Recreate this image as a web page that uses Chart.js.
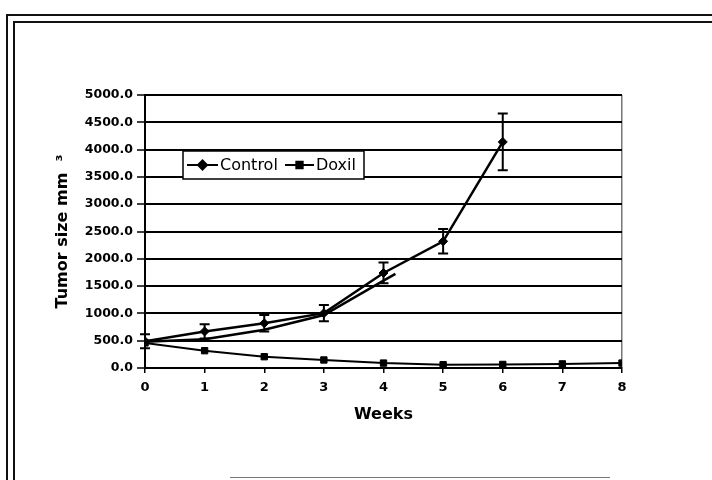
<!DOCTYPE html>
<html><head><meta charset="utf-8">
<script src="https://cdn.jsdelivr.net/npm/chart.js@4/dist/chart.umd.min.js"></script>
<style>
html,body{margin:0;padding:0;background:#fff;width:712px;height:480px;overflow:hidden;}
#wrap{position:absolute;left:0;top:0;width:712px;height:480px;}
.fr{position:absolute;background:#111;}
canvas{position:absolute;left:0;top:0;}
</style></head><body>
<div id="wrap">
<div class="fr" style="left:6px;top:14px;width:2px;height:466px"></div>
<div class="fr" style="left:6px;top:14px;width:706px;height:2px"></div>
<div class="fr" style="left:13px;top:21px;width:2px;height:459px"></div>
<div class="fr" style="left:13px;top:21px;width:699px;height:2px"></div>
<div class="fr" style="left:230px;top:477px;width:380px;height:1px;background:#777"></div>
<canvas id="c" width="712" height="480"></canvas>
</div>
<script>
// ---- data ----
const weeks = [0, 1, 2, 3, 4, 5, 6, 7, 8];
const controlWeeks = [0, 1, 2, 3, 4, 5, 6];
const controlMean = [490, 670, 820, 1005, 1740, 2320, 4140];
const controlSD = [130, 130, 150, 150, 190, 225, 520];
const doxilMean = [460, 317, 207, 147, 90, 60, 65, 75, 90];
const extraWeeks = [0, 1, 2, 3, 4, 4.2];
const extraMean = [480, 525, 700, 970, 1600, 1725];
const yTicks = [0, 500, 1000, 1500, 2000, 2500, 3000, 3500, 4000, 4500, 5000];
const seriesLabels = ['Control', 'Doxil'];
const xTitle = 'Weeks';
const yTitle = 'Tumor size mm  \u00B3';

Chart.defaults.font.family = "'DejaVu Sans', sans-serif";
Chart.defaults.color = '#000';

const errorBars = {
  id: 'errorBars',
  afterDatasetsDraw(chart) {
    const {ctx, scales: {x, y}} = chart;
    ctx.save();
    ctx.strokeStyle = '#000';
    ctx.lineWidth = 2;
    controlWeeks.forEach((w, i) => {
      const px = x.getPixelForValue(w);
      const top = y.getPixelForValue(controlMean[i] + controlSD[i]);
      const bot = y.getPixelForValue(controlMean[i] - controlSD[i]);
      ctx.beginPath();
      ctx.moveTo(px, top); ctx.lineTo(px, bot);
      ctx.moveTo(px - 5, top); ctx.lineTo(px + 5, top);
      ctx.moveTo(px - 5, bot); ctx.lineTo(px + 5, bot);
      ctx.stroke();
    });
    ctx.restore();
  }
};

const boxLegend = {
  id: 'boxLegend',
  afterDraw(chart) {
    const {ctx} = chart;
    const bx = 183, by = 151, bw = 181, bh = 28;
    ctx.save();
    ctx.fillStyle = '#fff';
    ctx.fillRect(bx, by, bw, bh);
    ctx.strokeStyle = '#000';
    ctx.lineWidth = 1.5;
    ctx.strokeRect(bx, by, bw, bh);
    ctx.font = "16px 'DejaVu Sans'";
    ctx.textBaseline = 'middle';
    ctx.fillStyle = '#000';
    const cy = by + bh / 2;
    const items = [{x0: 187, x1: 218, tx: 220}, {x0: 285, x1: 314, tx: 316}];
    chart.data.datasets.slice(0, 2).forEach((ds, i) => {
      const it = items[i];
      ctx.lineWidth = 2;
      ctx.beginPath(); ctx.moveTo(it.x0, cy); ctx.lineTo(it.x1, cy); ctx.stroke();
      Chart.helpers.drawPoint(ctx, {pointStyle: ds.pointStyle, radius: ds.pointRadius, borderWidth: 1}, (it.x0 + it.x1) / 2, cy);
      ctx.fillStyle = '#000';
      ctx.fill();
      ctx.fillText(ds.label, it.tx, cy + 1);
    });
    ctx.restore();
  }
};

new Chart(document.getElementById('c'), {
  type: 'line',
  data: {
    datasets: [
      {
        label: seriesLabels[0],
        data: controlWeeks.map((w, i) => ({x: w, y: controlMean[i]})),
        borderColor: '#000', backgroundColor: '#000', borderWidth: 2.5,
        pointStyle: 'rectRot', pointRadius: 4.5, pointBorderWidth: 1, tension: 0
      },
      {
        label: seriesLabels[1],
        data: weeks.map((w, i) => ({x: w, y: doxilMean[i]})),
        borderColor: '#000', backgroundColor: '#000', borderWidth: 2,
        pointStyle: 'rect', pointRadius: 4.5, pointBorderWidth: 1, tension: 0
      },
      {
        label: '',
        data: extraWeeks.map((w, i) => ({x: w, y: extraMean[i]})),
        borderColor: '#000', borderWidth: 2.5, pointRadius: 0, tension: 0
      }
    ]
  },
  options: {
    responsive: false,
    animation: false,
    devicePixelRatio: 1,
    layout: {padding: {left: 0, top: 95, right: 90, bottom: 0}},
    plugins: {legend: {display: false}, tooltip: {enabled: false}},
    scales: {
      x: {
        type: 'linear', min: 0, max: 8,
        afterFit(s) { s.height = 112; },
        ticks: {stepSize: 1, padding: 7, font: {size: 13, weight: 'bold'}, color: '#000'},
        grid: {
          drawOnChartArea: true, drawTicks: true, tickLength: 5, tickColor: '#000', tickWidth: 1.5,
          color: c => (c.tick && c.tick.value === 8) ? '#777' : 'rgba(0,0,0,0)', lineWidth: 1.5
        },
        border: {display: true, color: '#000', width: 2},
        title: {display: true, text: xTitle, font: {size: 16, weight: 'bold'}, color: '#000', padding: {top: 0, bottom: 56}}
      },
      y: {
        type: 'linear', min: 0, max: 5000,
        afterFit(s) { s.width = 145; },
        afterBuildTicks(s) { s.ticks = yTicks.map(v => ({value: v})); },
        ticks: {font: {size: 12.5, weight: 'bold'}, color: '#000', padding: 4, callback: v => v.toFixed(1)},
        grid: {color: '#000', lineWidth: 2, tickLength: 8, tickColor: '#000', tickWidth: 1.5},
        border: {display: true, color: '#000', width: 2},
        title: {display: true, text: yTitle, font: {size: 16, weight: 'bold'}, color: '#000', padding: {top: 53, bottom: 0}}
      }
    }
  },
  plugins: [errorBars, boxLegend]
});
</script>
</body></html>
